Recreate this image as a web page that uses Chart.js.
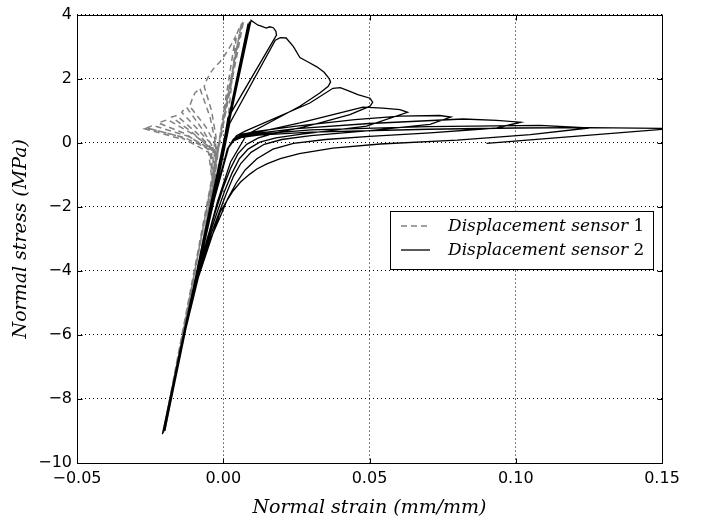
<!DOCTYPE html>
<html>
<head>
<meta charset="utf-8">
<script src="https://cdn.jsdelivr.net/npm/chart.js@4.4.0/dist/chart.umd.min.js"></script>
<style>
  html, body { margin: 0; padding: 0; background: #fff; }
  canvas { display: block; }
</style>
</head>
<body>
<canvas id="chart" width="701" height="525"></canvas>
<script>
// Axis ticks
const strainTicks = [-0.05, 0, 0.05, 0.10, 0.15]
const stressTicks = [-10, -8, -6, -4, -2, 0, 2, 4]
const seriesNames = ["Displacement sensor ", "Displacement sensor "]
const seriesNumbers = ["1", "2"]

// Displacement sensor 1 (grey, dashed), cycle by cycle
const sensor1Strain = [
  -0.0205, 0.0062, -0.0200, 0.0066, -0.0206, 0.0070,
  0.0066, 0.0062, 0.0060, 0.0057, 0.0058, 0.0055, 0.0050, 0.0045,
  0.0015, -0.0025, -0.0090, -0.0146, -0.0205,
  -0.0087, -0.0035, -0.0010, 0.0040,
  0.0040, 0.0030, 0.0010, -0.0011, -0.0030, -0.0045, -0.0057, -0.0065,
  -0.0040, -0.0025, -0.0030, -0.0090, -0.0146, -0.0205,
  -0.0088, -0.0035, -0.0020, -0.0045, -0.0080,
  -0.0097, -0.0105, -0.0115,
  -0.0060, -0.0030, -0.0032, -0.0090, -0.0146, -0.0205,
  -0.0088, -0.0035, -0.0025, -0.0070, -0.0125, -0.0135, -0.0142,
  -0.0080, -0.0035, -0.0035, -0.0090, -0.0146, -0.0205,
  -0.0088, -0.0035, -0.0025, -0.0090, -0.0160, -0.0176,
  -0.0110, -0.0040, -0.0036, -0.0090, -0.0146, -0.0205,
  -0.0088, -0.0035, -0.0025, -0.0100, -0.0190, -0.0222,
  -0.0130, -0.0045, -0.0036, -0.0090, -0.0146, -0.0205,
  -0.0088, -0.0035, -0.0025, -0.0120, -0.0240, -0.0262,
  -0.0150, -0.0050, -0.0036, -0.0090, -0.0146, -0.0205,
  -0.0088, -0.0035, -0.0025, -0.0130, -0.0265, -0.0270,
  -0.0137,
]
const sensor1Stress = [
  -9.05, 3.72, -9.00, 3.78, -9.08, 3.82,
  3.74, 3.67, 3.64, 3.56, 3.60, 3.58, 3.48, 3.36,
  0.60, -1.30, -4.10, -6.40, -9.05,
  -4.00, -1.60, 0.30, 3.20,
  3.28, 3.10, 2.80, 2.53, 2.35, 2.17, 1.95, 1.76,
  1.00, 0.20, -1.30, -4.10, -6.40, -9.05,
  -4.00, -1.60, -0.30, 0.80, 1.70,
  1.55, 1.39, 1.14,
  0.50, 0.00, -1.30, -4.10, -6.40, -9.05,
  -4.00, -1.60, -0.30, 0.40, 1.10, 1.03, 0.95,
  0.35, -0.10, -1.30, -4.10, -6.40, -9.05,
  -4.00, -1.60, -0.30, 0.30, 0.85, 0.80,
  0.35, -0.20, -1.35, -4.10, -6.40, -9.05,
  -4.00, -1.60, -0.30, 0.25, 0.72, 0.62,
  0.28, -0.25, -1.35, -4.10, -6.40, -9.05,
  -4.00, -1.60, -0.30, 0.20, 0.54, 0.46,
  0.20, -0.30, -1.35, -4.10, -6.40, -9.05,
  -4.00, -1.60, -0.30, 0.15, 0.47, 0.44,
  0.10,
]

// Displacement sensor 2 (black, solid)
const sensor2Strain = [
  -0.0205, 0.0085, -0.0200, 0.0090, -0.0208, 0.0095,
  0.0108, 0.0119, 0.0130, 0.0147, 0.0159, 0.0171, 0.0180, 0.0182,
  0.0016, -0.0035, -0.0088, -0.0145, -0.0205,
  -0.0085, -0.0032, 0.0022, 0.0178,
  0.0195, 0.0215, 0.0240, 0.0262, 0.0290, 0.0320, 0.0345, 0.0362, 0.0367, 0.0359,
  0.0330, 0.0262, 0.0080, 0.0025, -0.0020, -0.0087, -0.0146, -0.0205,
  -0.0086, -0.0030, 0.0020, 0.0045, 0.0075, 0.0296, 0.0375,
  0.0400, 0.0433, 0.0460, 0.0502, 0.0511, 0.0502,
  0.0433, 0.0330, 0.0262, 0.0180, 0.0120, 0.0080, 0.0050, 0.0025, 0.0000, -0.0025, -0.0055, -0.0087, -0.0146, -0.0206,
  -0.0086, -0.0032, 0.0015, 0.0035, 0.0065, 0.0120, 0.0262, 0.0478, 0.0546, 0.0604, 0.0630,
  0.0490, 0.0262, 0.0180, 0.0125, 0.0085, 0.0055, 0.0030, 0.0005, -0.0020, -0.0052, -0.0086, -0.0146, -0.0205,
  -0.0087, -0.0033, 0.0014, 0.0035, 0.0065, 0.0120, 0.0250, 0.0450, 0.0604, 0.0740, 0.0778,
  0.0707, 0.0500, 0.0300, 0.0200, 0.0140, 0.0095, 0.0060, 0.0035, 0.0010, -0.0015, -0.0050, -0.0086, -0.0146, -0.0205,
  -0.0086, -0.0032, 0.0015, 0.0035, 0.0065, 0.0120, 0.0250, 0.0500, 0.0820, 0.0935, 0.1017,
  0.0935, 0.0707, 0.0500, 0.0350, 0.0240, 0.0170, 0.0115, 0.0075, 0.0045, 0.0015, -0.0010, -0.0048, -0.0086, -0.0146, -0.0205,
  -0.0086, -0.0032, 0.0015, 0.0035, 0.0065, 0.0120, 0.0300, 0.0700, 0.1083, 0.1250,
  0.1050, 0.0800, 0.0536, 0.0375, 0.0260, 0.0195, 0.0149, 0.0115, 0.0091, 0.0060, 0.0034, 0.0010, -0.0011, -0.0045, -0.0085, -0.0145, -0.0205,
  -0.0086, -0.0032, 0.0015, 0.0035, 0.0065, 0.0120, 0.0300, 0.0700, 0.1000, 0.1250, 0.1500, 0.1530,
  0.0900,
]
const sensor2Stress = [
  -9.05, 3.72, -9.00, 3.78, -9.10, 3.82,
  3.74, 3.67, 3.64, 3.58, 3.62, 3.59, 3.48, 3.36,
  0.77, -1.95, -4.10, -6.40, -9.05,
  -4.00, -1.80, 0.60, 3.20,
  3.28, 3.27, 3.00, 2.66, 2.52, 2.37, 2.20, 2.00, 1.90, 1.76,
  1.55, 1.14, 0.25, -0.60, -1.85, -4.10, -6.40, -9.05,
  -4.00, -1.75, -0.10, 0.22, 0.36, 1.24, 1.70,
  1.72, 1.60, 1.50, 1.39, 1.26, 1.14,
  0.88, 0.62, 0.46, 0.31, 0.15, -0.05, -0.35, -0.80, -1.40, -2.10, -3.00, -4.10, -6.40, -9.05,
  -4.00, -1.80, -0.20, 0.10, 0.24, 0.33, 0.62, 1.11, 1.08, 1.03, 0.95,
  0.52, 0.26, 0.15, 0.02, -0.20, -0.50, -0.95, -1.50, -2.15, -3.00, -4.10, -6.40, -9.05,
  -4.00, -1.80, -0.20, 0.12, 0.27, 0.36, 0.52, 0.72, 0.83, 0.85, 0.80,
  0.57, 0.38, 0.22, 0.10, -0.05, -0.30, -0.65, -1.05, -1.60, -2.20, -3.05, -4.15, -6.40, -9.05,
  -4.00, -1.80, -0.20, 0.10, 0.22, 0.30, 0.44, 0.60, 0.74, 0.70, 0.64,
  0.46, 0.31, 0.20, 0.10, -0.02, -0.20, -0.50, -0.85, -1.25, -1.75, -2.30, -3.10, -4.15, -6.45, -9.05,
  -4.00, -1.80, -0.20, 0.08, 0.20, 0.27, 0.40, 0.50, 0.54, 0.46,
  0.25, 0.08, -0.04, -0.17, -0.34, -0.50, -0.66, -0.82, -0.98, -1.22, -1.50, -1.85, -2.17, -3.10, -4.20, -6.45, -9.05,
  -4.00, -1.80, -0.20, 0.06, 0.17, 0.24, 0.33, 0.42, 0.46, 0.47, 0.445, 0.44,
  -0.02,
]

const MINUS = "\u2212"
const tickFont = { family: "DejaVu Sans", size: 16 }
const titleFont = { family: "DejaVu Serif", size: 19, style: "italic" }

function toPoints(xs, ys) {
  return xs.map((x, i) => ({ x, y: ys[i] }))
}

function fmt(v, digits) {
  const s = Math.abs(v).toFixed(digits)
  return v < -1e-9 ? MINUS + s : s
}

// frame, inward tick marks and the boxed legend inside the plot
const decorations = {
  id: "decorations",
  afterDraw(chart) {
    const { ctx, chartArea: a, scales } = chart
    const L = Math.round(a.left) + 0.5
    const R = Math.round(a.right) + 0.5
    const T = Math.round(a.top) + 0.5
    const B = Math.round(a.bottom) + 0.5
    ctx.save()
    ctx.strokeStyle = "#000"
    ctx.lineWidth = 1
    ctx.beginPath()
    strainTicks.forEach((v) => {
      const px = Math.round(scales.x.getPixelForValue(v)) + 0.5
      ctx.moveTo(px, B); ctx.lineTo(px, B - 5)
      ctx.moveTo(px, T); ctx.lineTo(px, T + 5)
    })
    stressTicks.forEach((v) => {
      const py = Math.round(scales.y.getPixelForValue(v)) + 0.5
      ctx.moveTo(L, py); ctx.lineTo(L + 5, py)
      ctx.moveTo(R, py); ctx.lineTo(R - 5, py)
    })
    ctx.stroke()
    ctx.strokeRect(L, T, R - L, B - T)

    // legend
    const bx = 390.5, by = 211.5, bw = 263, bh = 58
    ctx.fillStyle = "#fff"
    ctx.fillRect(bx, by, bw, bh)
    ctx.strokeRect(bx, by, bw, bh)
    const rows = [
      { y: 226, color: "#808080", dash: [6, 4], width: 1.5 },
      { y: 250, color: "#000", dash: [], width: 1.3 },
    ]
    rows.forEach((r, i) => {
      ctx.strokeStyle = r.color
      ctx.lineWidth = r.width
      ctx.setLineDash(r.dash)
      ctx.beginPath()
      ctx.moveTo(401, r.y); ctx.lineTo(430, r.y)
      ctx.stroke()
      ctx.setLineDash([])
      ctx.fillStyle = "#000"
      ctx.textBaseline = "middle"
      ctx.textAlign = "left"
      ctx.font = 'italic 17px "DejaVu Serif"'
      ctx.fillText(seriesNames[i], 448, r.y + 1)
      const w = ctx.measureText(seriesNames[i]).width
      ctx.font = '17px "DejaVu Serif"'
      ctx.fillText(seriesNumbers[i], 448 + w, r.y + 1)
    })
    ctx.restore()
  },
}

new Chart(document.getElementById("chart"), {
  type: "scatter",
  data: {
    datasets: [
      {
        label: seriesNames[0] + seriesNumbers[0],
        data: toPoints(sensor1Strain, sensor1Stress),
        showLine: true,
        borderColor: "#808080",
        borderWidth: 1.5,
        borderDash: [6, 4],
        pointRadius: 0,
        tension: 0,
        order: 1,
      },
      {
        label: seriesNames[1] + seriesNumbers[1],
        data: toPoints(sensor2Strain, sensor2Stress),
        showLine: true,
        borderColor: "#000",
        borderWidth: 1.3,
        pointRadius: 0,
        tension: 0,
        order: 0,
      },
    ],
  },
  options: {
    responsive: false,
    animation: false,
    events: [],
    layout: { padding: { left: 0, right: 39, top: 11, bottom: 0 } },
    plugins: { legend: { display: false }, tooltip: { enabled: false } },
    scales: {
      x: {
        type: "linear",
        min: -0.05,
        max: 0.15,
        afterBuildTicks: (s) => { s.ticks = strainTicks.map((v) => ({ value: v })) },
        afterFit: (s) => { s.height = 62 },
        ticks: { callback: (v) => fmt(v, 2), font: tickFont, color: "#000", padding: 6, maxRotation: 0, autoSkip: false },
        grid: { color: "#000", lineWidth: 1, drawTicks: false },
        border: { display: false, dash: [1, 3] },
        title: { display: true, text: "Normal strain (mm/mm)", font: titleFont, color: "#000", padding: { top: 0, bottom: 6 } },
      },
      y: {
        type: "linear",
        min: -10,
        max: 4,
        afterBuildTicks: (s) => { s.ticks = stressTicks.map((v) => ({ value: v })) },
        afterFit: (s) => { s.width = 77 },
        ticks: { callback: (v) => fmt(v, 0), font: tickFont, color: "#000", padding: 5, autoSkip: false },
        grid: { color: "#000", lineWidth: 1, drawTicks: false },
        border: { display: false, dash: [1, 3] },
        title: { display: true, text: "Normal stress (MPa)", font: titleFont, color: "#000", padding: { top: 10, bottom: 0 } },
      },
    },
  },
  plugins: [decorations],
})
</script>
</body>
</html>
